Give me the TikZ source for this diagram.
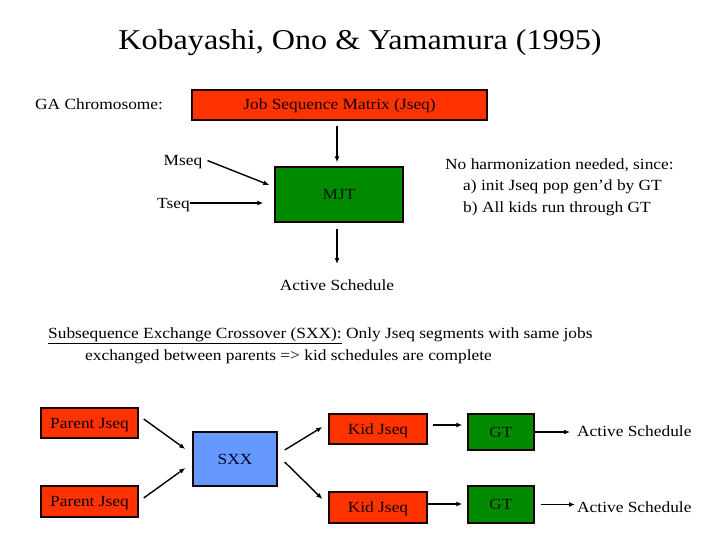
\documentclass[tikz,border=0pt]{standalone}
\usepackage{fontspec}
\setmainfont[FakeStretch=1.12]{Liberation Serif}
\usetikzlibrary{arrows.meta}
\definecolor{jred}{HTML}{FF3300}
\definecolor{jgreen}{HTML}{008A00}
\definecolor{jblue}{HTML}{6699FF}
\definecolor{jborder}{HTML}{1A0000}
\tikzset{
  box/.style={draw=jborder, line width=1.4pt, inner sep=0pt, text height=10pt, text depth=0pt, font=\fontsize{15.5}{18}\selectfont},
  redbox/.style={box, fill=jred, text=black!92!red},
  greenbox/.style={box, fill=jgreen, text=black!92!green},
  bluebox/.style={box, fill=jblue, text=black!85!blue},
  txt/.style={inner sep=0pt, font=\fontsize{15.5}{18}\selectfont},
  arr/.style={line width=1.4pt, -{Latex[length=6pt,width=5pt]}},
}
\begin{document}
\begin{tikzpicture}[x=1pt,y=-1pt]
\useasboundingbox (0,0) rectangle (720,540);
% title
\node[inner sep=0pt, anchor=base, font=\fontsize{28.7}{32}\selectfont] (title) at (360,50) {Kobayashi, Ono \& Yamamura (1995)};
% top part
\node[txt, anchor=base west] (ga) at (35,109.5) {GA Chromosome:};
\node[redbox, minimum width=295pt, minimum height=30pt] (jseq) at (339.5,105) {Job Sequence Matrix (Jseq)};
\node[greenbox, minimum width=128pt, minimum height=55pt] (mjt) at (339,194.5) {MJT};
\node[txt, anchor=base] (mseq) at (183,166) {Mseq};
\node[txt, anchor=base] (tseq) at (173.5,208) {Tseq};
\node[txt, anchor=base] (act) at (337,290.5) {Active Schedule};
\draw[arr] ([xshift=-2.5pt, yshift=-5pt]jseq.south) -- ([xshift=-2pt, yshift=4pt]mjt.north);
\draw[arr] ([xshift=-2pt, yshift=-6pt]mjt.south) -- (act.north |- 0,264);
\draw[arr] ([shift={(5,-2)}]mseq.east) -- ([shift={(-5,-9.5)}]mjt.west);
\draw[arr] ([shift={(0,-5)}]tseq.base east) -- ([shift={(-11,8.5)}]mjt.west);
\node[txt, anchor=base west] (nh1) at (445,170) {No harmonization needed, since:};
\node[txt, anchor=base west] (nh2) at (463,191) {a) init Jseq pop gen’d by GT};
\node[txt, anchor=base west] (nh3) at (463,212) {b) All kids run through GT};
% SXX description
\node[txt, anchor=base west] (sx1) at (48,338) {\underline{Subsequence Exchange Crossover (SXX):} Only Jseq segments with same jobs};
\node[txt, anchor=base west] (sx2) at (85,360) {exchanged between parents => kid schedules are complete};
% bottom part
\node[redbox, minimum width=97pt, minimum height=30pt] (p1) at (89.5,423) {Parent Jseq};
\node[redbox, minimum width=97pt, minimum height=31pt] (p2) at (89.5,501.5) {Parent Jseq};
\node[bluebox, minimum width=84pt, minimum height=54pt] (sxx) at (235,459) {SXX};
\node[redbox, minimum width=98pt, minimum height=30pt] (k1) at (378,429) {Kid Jseq};
\node[redbox, minimum width=98pt, minimum height=31pt] (k2) at (378,507.5) {Kid Jseq};
\node[greenbox, minimum width=66pt, minimum height=36pt] (g1) at (501,432) {GT};
\node[greenbox, minimum width=66pt, minimum height=37pt] (g2) at (501,504.5) {GT};
\node[txt, anchor=base west] (a1) at (577,436) {Active Schedule};
\node[txt, anchor=base west] (a2) at (577,512.5) {Active Schedule};
\draw[arr] ([shift={(5,-4)}]p1.east) -- ([shift={(-7,-10)}]sxx.west);
\draw[arr] ([shift={(5,-3.5)}]p2.east) -- ([shift={(-7,9)}]sxx.west);
\draw[arr] ([shift={(7,-9)}]sxx.east) -- ([shift={(-6,-2)}]k1.west);
\draw[arr] ([shift={(7,3)}]sxx.east) -- ([shift={(-6,-8.5)}]k2.west);
\draw[arr] ([shift={(5,-4)}]k1.east) -- ([shift={(-5,-7)}]g1.west);
\draw[arr] ([shift={(0,-3.5)}]k2.east) -- ([shift={(-5,-0.5)}]g2.west);
\draw[arr] (g1.east) -- ([shift={(-7,-4)}]a1.base west);
\draw[arr] ([xshift=6pt]g2.east) -- ([shift={(-2,-8)}]a2.base west);
\end{tikzpicture}
\end{document}
